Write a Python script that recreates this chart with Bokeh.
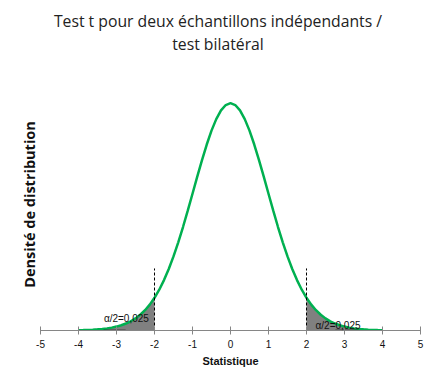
import numpy as np
from bokeh.plotting import figure
from bokeh.models import Range1d, FixedTicker, Label, Div
from bokeh.layouts import column
from bokeh.embed import file_html
from bokeh.resources import INLINE

# --- data ---
stat = [-4.0, -3.875, -3.75, -3.625, -3.5, -3.375, -3.25, -3.125, -3.0, -2.875,
        -2.75, -2.625, -2.5, -2.375, -2.25, -2.125, -2.0, -1.875, -1.75, -1.625,
        -1.5, -1.375, -1.25, -1.125, -1.0, -0.875, -0.75, -0.625, -0.5, -0.375,
        -0.25, -0.125, 0.0, 0.125, 0.25, 0.375, 0.5, 0.625, 0.75, 0.875,
        1.0, 1.125, 1.25, 1.375, 1.5, 1.625, 1.75, 1.875, 2.0, 2.125,
        2.25, 2.375, 2.5, 2.625, 2.75, 2.875, 3.0, 3.125, 3.25, 3.375,
        3.5, 3.625, 3.75, 3.875, 4.0]
density = [0.0005, 0.0007, 0.0010, 0.0014, 0.0020, 0.0027, 0.0037, 0.0050, 0.0068, 0.0091,
           0.0121, 0.0160, 0.0211, 0.0274, 0.0353, 0.0450, 0.0569, 0.0710, 0.0877, 0.1070,
           0.1290, 0.1534, 0.1801, 0.2085, 0.2380, 0.2677, 0.2966, 0.3237, 0.3479, 0.3679,
           0.3831, 0.3924, 0.3956, 0.3924, 0.3831, 0.3679, 0.3479, 0.3237, 0.2966, 0.2677,
           0.2380, 0.2085, 0.1801, 0.1534, 0.1290, 0.1070, 0.0877, 0.0710, 0.0569, 0.0450,
           0.0353, 0.0274, 0.0211, 0.0160, 0.0121, 0.0091, 0.0068, 0.0050, 0.0037, 0.0027,
           0.0020, 0.0014, 0.0010, 0.0007, 0.0005]
critical = [-2.0, 2.0]
critical_height = [0.108, 0.108]
x_ticks = [-5, -4, -3, -2, -1, 0, 1, 2, 3, 4, 5]
alpha_text = "α/2=0,025"
title_lines = ["Test t pour deux échantillons indépendants /", "test bilatéral"]
y_label = "Densité de distribution"

GREEN = "#00B050"
AXIS_GRAY = "#868686"
SHADE = "#808080"

xs = np.array(stat)
ys = np.array(density)

title_div = Div(
    text=("<div style=\"display:block;box-sizing:content-box;width:428px;"
          "text-align:center;font-family:'Open Sans';font-size:15.75px;"
          "line-height:23px;color:#222222;padding-top:10px;padding-left:4px;\">"
          + "<br>".join(title_lines) + "</div>"),
    width=432, height=60, margin=(0, 0, 0, 0))

p = figure(width=432, height=318, output_backend="svg", toolbar_location=None,
           x_range=Range1d(-5, 5), y_range=Range1d(0, 0.4386),
           min_border_left=40, min_border_right=12, min_border_top=18,
           min_border_bottom=48, margin=(0, 0, 0, 0))
p.outline_line_color = None
p.xgrid.visible = False
p.ygrid.visible = False
p.title.visible = False

# shaded tails
left = xs <= critical[0]
right = xs >= critical[1]
p.varea(x=xs[left], y1=0, y2=ys[left], fill_color=SHADE)
p.varea(x=xs[right], y1=0, y2=ys[right], fill_color=SHADE)

# density curve
p.line(xs, ys, line_color=GREEN, line_width=2.5)

# critical dashed lines
p.segment(x0=critical, y0=[0, 0], x1=critical, y1=critical_height,
          line_color="black", line_dash="3 2", line_width=1)

# small leader lines under the labels
p.segment(x0=[-3.34, 2.76], y0=[0, 0], x1=[-2.76, 3.37], y1=[0, 0],
          line_color="black", line_width=1.5)

for lx, ly in [(-2.74, 0.021), (2.83, 0.009)]:
    p.add_layout(Label(x=lx, y=ly, text=alpha_text, text_align="center",
                       text_baseline="middle", text_font="Liberation Sans",
                       text_font_size="10px", text_color="#111111"))

# x axis
xa = p.xaxis[0]
xa.ticker = FixedTicker(ticks=x_ticks)
xa.major_label_overrides = {t: str(t) for t in x_ticks}
xa.minor_tick_line_color = None
xa.axis_line_color = AXIS_GRAY
xa.major_tick_line_color = AXIS_GRAY
xa.major_tick_in = 4
xa.major_tick_out = 4
xa.major_label_standoff = 5
xa.major_label_text_font = "Liberation Sans"
xa.major_label_text_font_size = "10px"
xa.major_label_text_color = "#111111"
xa.axis_label = "Statistique"
xa.axis_label_text_font = "Liberation Sans"
xa.axis_label_text_font_style = "bold"
xa.axis_label_text_font_size = "11px"
xa.axis_label_text_color = "#111111"
xa.axis_label_standoff = 4

# y axis: label only
ya = p.yaxis[0]
ya.ticker = FixedTicker(ticks=[])
ya.axis_line_color = None
ya.major_tick_line_color = None
ya.minor_tick_line_color = None
ya.major_label_text_font_size = "0px"
ya.axis_label = y_label
ya.axis_label_text_font = "Open Sans"
ya.axis_label_text_font_style = "bold"
ya.axis_label_text_font_size = "14.5px"
ya.axis_label_text_color = "#111111"
ya.axis_label_standoff = 2

layout = column(title_div, p, spacing=0)
open("out.html", "w").write(file_html(layout, INLINE))
